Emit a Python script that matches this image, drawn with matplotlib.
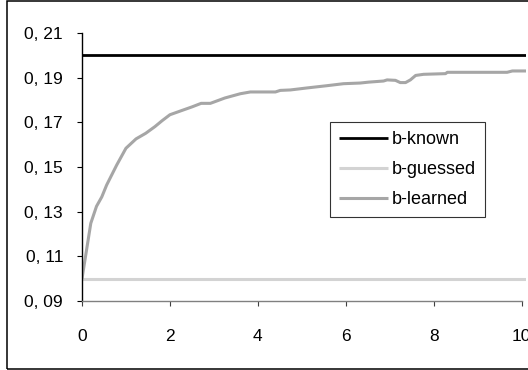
import numpy as np
import matplotlib
matplotlib.use("Agg")
import matplotlib.pyplot as plt
from matplotlib.patches import Rectangle

plt.rcParams['font.family'] = ['Liberation Sans', 'DejaVu Sans']

# values
known_x = [0, 10.1]
known_y = [0.20, 0.20]
guessed_x = [0, 10.1]
guessed_y = [0.10, 0.10]
learned_x = [0, 0.2, 0.33, 0.45, 0.56, 0.79, 1.0, 1.23, 1.45, 1.66, 1.82, 2.0,
             2.27, 2.5, 2.71, 2.92, 3.25, 3.6, 3.83, 4.4, 4.51, 4.74, 5.12,
             5.57, 5.95, 6.33, 6.52, 6.86, 6.94, 7.13, 7.24, 7.36, 7.47, 7.59,
             7.77, 8.27, 8.31, 9.67, 9.79, 10.1]
learned_y = [0.100, 0.1248, 0.1324, 0.1366, 0.1419, 0.1509, 0.1584, 0.1626,
             0.1651, 0.1681, 0.1707, 0.1734, 0.1753, 0.1769, 0.1785, 0.1785,
             0.1809, 0.1828, 0.1836, 0.1836, 0.1843, 0.1845, 0.1854, 0.1864,
             0.1873, 0.1876, 0.188, 0.1885, 0.189, 0.1888, 0.1878, 0.1878,
             0.189, 0.191, 0.1915, 0.1918, 0.1924, 0.1924, 0.193, 0.193]

yticks = [0.09, 0.11, 0.13, 0.15, 0.17, 0.19, 0.21]
ytick_labels = ["0, 09", "0, 11", "0, 13", "0, 15", "0, 17", "0, 19", "0, 21"]
xticks = [0, 2, 4, 6, 8, 10]

W, H = 528, 370
f = plt.figure(figsize=(W / 100, H / 100), dpi=100)

# outer chart border (right edge is cut off in the reference)
f.patches.append(Rectangle((6.5 / W, 1.5 / H), 1.2, (H - 2.5) / H,
                           transform=f.transFigure, fill=False,
                           edgecolor="black", linewidth=1.1, clip_on=False))

ax = f.add_axes([82 / W, 1 - 301 / H, (526 - 82) / W, (301 - 33) / H])

ax.plot(known_x, known_y, color="black", linewidth=2.0, label="b-known", solid_capstyle="butt")
ax.plot(guessed_x, guessed_y, color="#d3d3d3", linewidth=2.2, label="b-guessed", solid_capstyle="butt")
ax.plot(learned_x, learned_y, color="#a6a6a6", linewidth=2.2, label="b-learned", solid_capstyle="butt")

ax.set_xlim(0, 10.1)
ax.set_ylim(0.09, 0.21)
ax.set_yticks(yticks, labels=ytick_labels)
ax.set_xticks(xticks)

ax.spines['top'].set_visible(False)
ax.spines['right'].set_visible(False)
ax.spines['bottom'].set_bounds(0, 10)
ax.spines['bottom'].set_color("#808080")
ax.spines['left'].set_color("black")
ax.spines['left'].set_linewidth(1.0)
ax.spines['bottom'].set_linewidth(1.0)

ax.tick_params(axis='y', direction='out', length=3.6, width=0.8, colors='black',
               labelsize=12.5, pad=10)
ax.tick_params(axis='x', direction='out', length=3.6, width=0.8, color='#404040',
               labelcolor='black', labelsize=12.5, pad=16.5)

leg = ax.legend(loc="upper left", bbox_to_anchor=(330 / W, 1 - 122 / H),
                bbox_transform=f.transFigure, borderaxespad=0, fontsize=13,
                frameon=True, fancybox=False, edgecolor="black",
                handlelength=2.7, handletextpad=0.22, labelspacing=0.72,
                borderpad=0.5)
leg.get_frame().set_linewidth(0.8)

plt.savefig("out.png", dpi=100)
